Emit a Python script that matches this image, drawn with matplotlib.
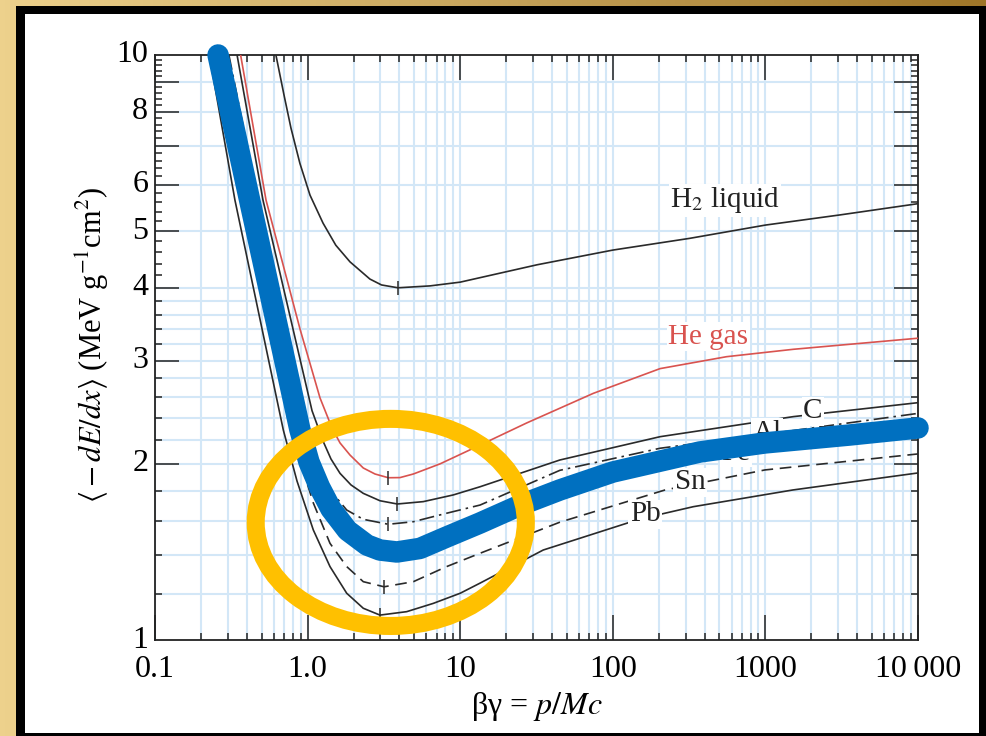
import numpy as np
import matplotlib
matplotlib.use("Agg")
import matplotlib.pyplot as plt
from matplotlib.patches import Ellipse, Rectangle
from matplotlib.ticker import FixedLocator, FixedFormatter, NullFormatter

# ---------------- data ----------------
h2_x = [0.62, 0.700, 0.778, 0.89, 1.037, 1.262, 1.53, 1.896, 2.56, 3.05, 3.91, 6.34, 10, 32, 100,
        320, 1000, 3100, 10000]
h2_y = [10.0, 8.55, 7.50, 6.53, 5.76, 5.16, 4.73, 4.43, 4.14, 4.045, 4.00, 4.03, 4.09, 4.38, 4.64,
        4.86, 5.12, 5.33, 5.57]

he_x = [0.364, 0.534, 0.892, 1.206, 1.445, 1.631, 1.896, 2.317, 2.765, 3.38, 4.03, 4.93, 7.37, 12.2,
        27.3, 74.5, 204, 557, 1524, 10000]
he_y = [10.0, 5.65, 3.40, 2.593, 2.304, 2.172, 2.071, 1.968, 1.922, 1.894, 1.895, 1.922, 2.00, 2.127,
        2.35, 2.64, 2.91, 3.05, 3.14, 3.28]

c_x = [0.345, 0.510, 1.069, 1.267, 1.423, 1.631, 1.925, 2.317, 2.98, 3.87, 5.73, 9.01, 13.5, 45,
       204, 1524, 10000]
c_y = [10.0, 5.65, 2.466, 2.183, 2.039, 1.927, 1.841, 1.781, 1.730, 1.708, 1.724, 1.770, 1.828,
       2.031, 2.226, 2.409, 2.545]

al_x = [0.305, 0.473, 0.991, 1.090, 1.224, 1.402, 1.804, 2.317, 3.38, 4.93, 8.15, 13.5, 45, 204,
        923, 10000]
al_y = [10.0, 5.65, 2.286, 2.057, 1.915, 1.805, 1.668, 1.608, 1.577, 1.593, 1.647, 1.701, 1.95,
        2.127, 2.24, 2.44]

fe_x = [0.259, 0.417, 0.659, 0.89, 1.021, 1.197, 1.423, 1.826, 2.451, 2.98, 3.85, 5.45, 8.15, 13.5,
        24.7, 45, 100, 372, 993, 3580, 10000]
fe_y = [10.0, 5.65, 3.277, 2.29, 2.015, 1.826, 1.675, 1.539, 1.453, 1.425, 1.414, 1.434, 1.50,
        1.585, 1.70, 1.805, 1.937, 2.096, 2.172, 2.241, 2.304]

sn_x = [0.240, 0.377, 0.806, 0.933, 1.090, 1.402, 1.804, 2.317, 3.17, 4.93, 8.15, 13.5, 45, 220,
        993, 10000]
sn_y = [10.0, 5.65, 2.286, 1.953, 1.715, 1.463, 1.335, 1.258, 1.233, 1.258, 1.335, 1.407, 1.59,
        1.805, 1.953, 2.08]

pb_x = [0.227, 0.334, 0.693, 0.852, 1.090, 1.402, 1.804, 2.317, 2.98, 4.46, 6.66, 10, 13.5, 35,
        150.7, 337, 1515, 10000]
pb_y = [10.0, 5.65, 2.286, 1.870, 1.542, 1.335, 1.202, 1.133, 1.103, 1.118, 1.155, 1.202, 1.251,
        1.425, 1.61, 1.69, 1.805, 1.93]

# minimum markers
min_x = [3.91, 3.38, 3.87, 3.38, 3.17, 2.98]
min_y = [4.00, 1.894, 1.708, 1.577, 1.233, 1.103]

# labels
label_text = [r"H$_2$ liquid", "He gas", "C", "Al", "Fe", "Sn", "Pb"]
label_x = [543, 421, 2050, 1026, 640, 321, 163]
label_y = [5.65, 3.30, 2.46, 2.26, 2.09, 1.86, 1.64]
label_col = ["#222222", "#d9534f", "#222222", "#222222", "#222222", "#222222", "#222222"]

x_ticks = [0.1, 1.0, 10, 100, 1000, 10000]
x_ticklabels = ["0.1", "1.0", "10", "100", "1000", "10\u2009000"]
y_major = [2, 3, 4, 5, 6, 7, 8, 9]
y_labels_at = [1, 2, 3, 4, 5, 6, 8, 10]
y_labels = ["1", "2", "3", "4", "5", "6", "8", "10"]
y_minor = [1.2, 1.4, 1.6, 1.8, 2.2, 2.4, 2.6, 2.8, 3.2, 3.4, 3.6, 3.8,
           4.2, 4.4, 4.6, 4.8, 5.2, 5.4, 5.6, 5.8, 6.2, 6.4, 6.6, 6.8,
           7.2, 7.4, 7.6, 7.8, 8.2, 8.4, 8.6, 8.8, 9.2, 9.4, 9.6, 9.8]
y_grid = [1.2, 1.4, 1.6, 1.8, 2, 2.2, 2.4, 2.6, 2.8, 3, 3.2, 3.4, 3.6, 3.8,
          4, 5, 6, 7, 8, 9]

# ---------------- style ----------------
plt.rcParams['font.family'] = ['Liberation Serif', 'DejaVu Serif']
plt.rcParams['mathtext.fontset'] = 'stix'

W, H = 986, 736
fig = plt.figure(figsize=(W / 100, H / 100), dpi=100)

# golden background
bg = fig.add_axes([0, 0, 1, 1], zorder=-10)
gx = np.linspace(0, 1, 200)
gy = np.linspace(0, 1, 200)
GX, GY = np.meshgrid(gx, gy)
t = np.clip(0.55 * GX + 0.45 * GY ** 3 * GX, 0, 1)
c0 = np.array([0.93, 0.82, 0.55])
c1 = np.array([0.62, 0.46, 0.16])
img = c0[None, None, :] * (1 - t[..., None]) + c1[None, None, :] * t[..., None]
bg.imshow(img, extent=[0, 1, 0, 1], origin='lower', aspect='auto')
bg.set_xlim(0, 1); bg.set_ylim(0, 1)
bg.axis('off')

fig.patches.append(Rectangle((16 / W, 0), 1 - 16 / W, 1 - 6 / H,
                             transform=fig.transFigure, facecolor='black',
                             edgecolor='none', zorder=-5))
fig.patches.append(Rectangle((25 / W, 3 / H), (979 - 25) / W, (733 - 14) / H,
                             transform=fig.transFigure, facecolor='white',
                             edgecolor='none', zorder=-4))

L, R, T, B = 155, 918, 55, 640
ax = fig.add_axes([L / W, 1 - B / H, (R - L) / W, (B - T) / H])
ax.set_facecolor('white')
ax.set_xscale('log'); ax.set_yscale('log')
ax.set_xlim(0.1, 10000); ax.set_ylim(1, 10)

gridc = '#d3e7f7'
ax.grid(axis='x', which='both', color=gridc, lw=1.5, zorder=0)
ax.hlines(y_grid, 0.1, 10000, color=gridc, lw=1.5, zorder=0)

ax.xaxis.set_major_locator(FixedLocator(x_ticks))
ax.xaxis.set_major_formatter(FixedFormatter(x_ticklabels))
ax.yaxis.set_major_locator(FixedLocator(y_major))
ax.yaxis.set_major_formatter(NullFormatter())
ax.yaxis.set_minor_locator(FixedLocator(y_minor))
ax.yaxis.set_minor_formatter(NullFormatter())
ax.tick_params(which='both', direction='in', top=True, right=True, color='#222222', width=1.1)
ax.tick_params(axis='x', which='major', length=18, labelsize=23, pad=11)
ax.tick_params(axis='x', which='minor', length=5)
ax.tick_params(axis='y', which='major', length=17)
ax.tick_params(axis='y', which='minor', length=5)
for s in ax.spines.values():
    s.set_color('#222222'); s.set_linewidth(1.3)

for yv, lab in zip(y_labels_at, y_labels):
    ax.text(-0.009, np.log10(yv), lab, transform=ax.transAxes, ha='right', va='center', fontsize=23)

lk = dict(color='#2a2a2a', lw=1.2, zorder=3, solid_joinstyle='round')
ax.plot(h2_x, h2_y, **lk)
ax.plot(he_x, he_y, color='#d9534f', lw=1.2, zorder=3, solid_joinstyle='round')
ax.plot(c_x, c_y, **lk)
ax.plot(al_x, al_y, color='#2a2a2a', lw=1.2, zorder=3, dashes=[9, 3, 1.5, 3])
ax.plot(fe_x, fe_y, **lk)
ax.plot(sn_x, sn_y, color='#2a2a2a', lw=1.2, zorder=3, dashes=[7, 4])
ax.plot(pb_x, pb_y, **lk)
ax.plot(min_x, min_y, ls='none', marker='|', ms=10, mew=1.1, color='#2a2a2a', zorder=3)

for tx, xx, yy, cc in zip(label_text, label_x, label_y, label_col):
    ax.text(xx, yy, tx, ha='center', va='center', fontsize=21, color=cc, zorder=4,
            bbox=dict(facecolor='white', edgecolor='none', pad=1.0))

ax.plot(fe_x, fe_y, color='#0070c0', lw=15.5, solid_capstyle='round',
        solid_joinstyle='round', zorder=6, clip_on=False)

ax.add_patch(Ellipse((0.309, 0.201), 0.354, 0.354, transform=ax.transAxes,
                     facecolor='none', edgecolor='#ffc000', lw=13, zorder=7))

ax.set_xlabel('βγ = $p/Mc$', fontsize=23, labelpad=4)
fig.text(92 / W, 1 - 345 / H, r'$\langle -dE/dx\rangle$ (MeV g$^{-1}$cm$^2$)', rotation=90,
         ha='center', va='center', fontsize=22)

fig.savefig('out.png', dpi=100)
